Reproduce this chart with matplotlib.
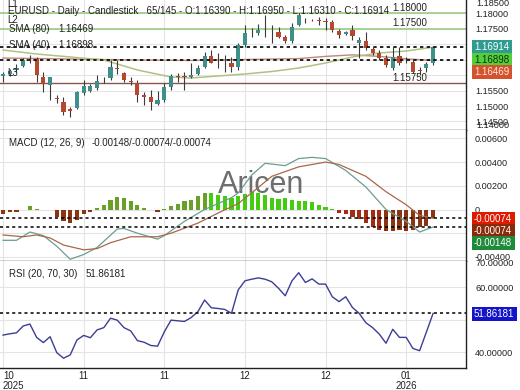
import numpy as np
import matplotlib.pyplot as plt

plt.rcParams['font.family'] = ['Liberation Sans', 'DejaVu Sans']

# daily candles, EURUSD (65 bars shown)
opens = [1.1598, 1.1603, 1.1616, 1.1629, 1.1648, 1.1652, 1.1594, 1.1568, 1.1525, 1.1513,
         1.1490, 1.1494, 1.1542, 1.1550, 1.1558, 1.1586, 1.1590, 1.1622, 1.1606, 1.1582,
         1.1574, 1.1535, 1.1529, 1.1507, 1.1519, 1.1561, 1.1597, 1.1596, 1.1594, 1.1603,
         1.1626, 1.1661, 1.1643, 1.1640, 1.1639, 1.1626, 1.1697, 1.1737, 1.1735, 1.1748,
         1.1740, 1.1739, 1.1723, 1.1710, 1.1761, 1.1774, 1.1778, 1.1776, 1.1773, 1.1771,
         1.1742, 1.1732, 1.1745, 1.1703, 1.1710, 1.1684, 1.1671, 1.1655, 1.1623, 1.1661,
         1.1648, 1.1642, 1.1616, 1.1623, 1.16390]
highs = [1.1610, 1.1620, 1.1635, 1.1655, 1.1665, 1.1658, 1.1610, 1.1595, 1.1535, 1.1529,
         1.1497, 1.1550, 1.1584, 1.1570, 1.1600, 1.1594, 1.1648, 1.1648, 1.1610, 1.1594,
         1.1584, 1.1545, 1.1552, 1.1548, 1.1574, 1.1603, 1.1606, 1.1610, 1.1639, 1.1632,
         1.1674, 1.1681, 1.1671, 1.1665, 1.1658, 1.1703, 1.1761, 1.1752, 1.1765, 1.1794,
         1.1761, 1.1755, 1.1729, 1.1768, 1.1800, 1.1784, 1.1780, 1.1787, 1.1784, 1.1777,
         1.1748, 1.1742, 1.1761, 1.1723, 1.1739, 1.1690, 1.1681, 1.1665, 1.1690, 1.1690,
         1.1658, 1.1648, 1.1626, 1.1642, 1.16950]
lows = [1.1577, 1.1598, 1.1610, 1.1626, 1.1640, 1.1578, 1.1545, 1.1519, 1.1510, 1.1471,
        1.1465, 1.1490, 1.1535, 1.1545, 1.1552, 1.1575, 1.1584, 1.1603, 1.1577, 1.1568,
        1.1513, 1.1503, 1.1487, 1.1503, 1.1513, 1.1552, 1.1577, 1.1552, 1.1590, 1.1600,
        1.1622, 1.1638, 1.1622, 1.1610, 1.1610, 1.1616, 1.1690, 1.1723, 1.1729, 1.1723,
        1.1703, 1.1719, 1.1703, 1.1703, 1.1758, 1.1768, 1.1775, 1.1761, 1.1745, 1.1739,
        1.1719, 1.1729, 1.1713, 1.1655, 1.1681, 1.1665, 1.1648, 1.1626, 1.1616, 1.1632,
        1.1639, 1.1606, 1.1600, 1.1610, 1.16310]
closes = [1.1603, 1.1612, 1.1623, 1.1648, 1.1650, 1.1600, 1.1571, 1.1594, 1.1521, 1.1481,
          1.1485, 1.1545, 1.1565, 1.1565, 1.1581, 1.1588, 1.1626, 1.1620, 1.1584, 1.1579,
          1.1535, 1.1530, 1.1513, 1.1519, 1.1561, 1.1597, 1.1594, 1.1595, 1.1600, 1.1623,
          1.1661, 1.1639, 1.1641, 1.1638, 1.1626, 1.1697, 1.1735, 1.1735, 1.1745, 1.1749,
          1.1738, 1.1723, 1.1710, 1.1755, 1.1794, 1.1775, 1.1777, 1.1774, 1.1771, 1.1745,
          1.1729, 1.1740, 1.1726, 1.1713, 1.1687, 1.1671, 1.1655, 1.1632, 1.1658, 1.1639,
          1.1649, 1.1610, 1.1614, 1.1636, 1.16914]

# moving averages (read every few bars)
sma40_idx = [0, 5, 10, 15, 20, 25, 28, 32, 36, 40, 44, 48, 52, 56, 60, 64]
sma40 = [1.16806, 1.16677, 1.16581, 1.16484, 1.16161, 1.15935, 1.15903, 1.15968,
         1.16032, 1.16113, 1.16226, 1.16387, 1.16581, 1.16710, 1.16774, 1.16898]
sma80_idx = [0, 10, 20, 28, 36, 44, 48, 52, 56, 60, 64]
sma80 = [1.16548, 1.16516, 1.16484, 1.16470, 1.16500, 1.16530, 1.16600, 1.16650,
         1.16600, 1.16520, 1.16469]

levels_green = [1.18000, 1.17500]
level_brown = 1.15750

# MACD (12, 26, 9)
macd_idx = [0, 2, 4, 6, 8, 10, 12, 14, 17, 18, 20, 23, 24, 27, 30, 32, 34, 35, 37, 39,
            42, 44, 46, 48, 51, 54, 57, 60, 62, 64]
macd = [-0.0026, -0.0026, -0.0019, -0.0022, -0.0031, -0.0042, -0.0038, -0.0032, -0.00165,
        -0.0016, -0.0020, -0.0025, -0.0022, -0.0010, 0.0, 0.0005, 0.0010, 0.0014, 0.0029,
        0.0039, 0.0037, 0.0043, 0.0044, 0.0043, 0.0033, 0.0019, 0.0, -0.0010, -0.0019, -0.00148]
sig_idx = [0, 3, 5, 7, 9, 12, 14, 16, 19, 23, 25, 29, 32, 35, 37, 40, 44, 48, 50, 54,
           57, 60, 62, 64]
signal = [-0.00215, -0.0023, -0.00215, -0.0024, -0.0030, -0.0034, -0.0033, -0.0028,
          -0.0023, -0.0023, -0.0020, -0.00115, -0.0003, 0.0005, 0.0014, 0.0028, 0.0036,
          0.0040, 0.0038, 0.0028, 0.0015, 0.0004, -0.0005, -0.00074]
hist = [-0.0004, -0.00025, -0.00017, -0.00003, 0.00028, 0.00005, -0.00005, -0.00005, -0.00062, -0.00099,
        -0.00118, -0.0009, -0.00042, -0.00017, 0.0001, 0.00042, 0.00084, 0.00107, 0.00098, 0.0007,
        0.00042, 0.00012, -0.00003, -0.00022, 0.00002, 0.0003, 0.0005, 0.00074, 0.0008, 0.0011,
        0.0014, 0.0014, 0.00125, 0.0011, 0.00095, 0.0011, 0.0013, 0.0015, 0.0014, 0.0012,
        0.001, 0.0009, 0.00095, 0.0008, 0.0007, 0.0007, 0.0006, 0.0004, 0.0002, 0.00002,
        -0.00033, -0.00035, -0.0006, -0.0008, -0.0011, -0.0015, -0.0017, -0.0018, -0.0018, -0.0017,
        -0.0018, -0.0017, -0.0015, -0.0014, -0.00074]

# RSI (20, 70, 30)
rsi = [45.2, 45.6, 45.9, 48.0, 48.6, 44.5, 42.9, 44.7, 39.8, 38.1,
       39.1, 43.7, 45.1, 44.4, 46.8, 47.5, 50.4, 49.8, 47.5, 46.5,
       43.5, 43.0, 42.0, 41.8, 46.2, 49.8, 49.6, 49.4, 50.6, 52.4,
       56.0, 53.6, 53.4, 53.1, 51.9, 59.1, 61.9, 62.4, 62.8, 62.4,
       61.6, 59.6, 57.3, 61.9, 64.4, 61.4, 62.5, 60.9, 60.9, 57.0,
       55.5, 57.0, 53.7, 51.9, 49.0, 47.5, 45.5, 42.7, 47.0, 44.5,
       44.5, 41.1, 40.4, 46.1, 51.86181]

month_idx = [0, 12, 24, 36, 48, 60]
month_labels = ['10\n2025', '11', '11', '12', '12', '01\n2026']

W, H = 520, 390
fig = plt.figure(figsize=(W / 100, H / 100), dpi=100)
pw = 466 / W
ax1 = fig.add_axes([0, 1 - 130 / H, pw, 130 / H])
ax2 = fig.add_axes([0, 1 - 261 / H, pw, 131 / H])
ax3 = fig.add_axes([0, 1 - 368 / H, pw, 107 / H])

fs = 6.6
txt = '#222222'
grid_c = '#e4e4e4'

for ax in (ax1, ax2, ax3):
    ax.set_xlim(-0.45, 68.9)
    ax.yaxis.tick_right()
    ax.tick_params(axis='y', length=0, pad=6.5, labelsize=fs, labelcolor=txt)
    ax.tick_params(axis='x', length=0)
    ax.set_xticks(month_idx)
    ax.set_xticklabels([])
    ax.grid(True, color=grid_c, lw=0.8)
    ax.set_axisbelow(True)
    for s in ('top', 'left'):
        ax.spines[s].set_visible(False)
    for s in ('right', 'bottom'):
        ax.spines[s].set_color('#222222')
        ax.spines[s].set_linewidth(1.0)

x = np.arange(len(closes))
o = np.array(opens)
c = np.array(closes)

# ---- price panel
ax1.set_ylim(1.142258, 1.184194)
pt = [1.145, 1.150, 1.155, 1.160, 1.165, 1.170, 1.175, 1.180]
ax1.set_yticks(pt)
# 1.160-1.170 sit under the value tags
ax1.set_yticklabels(['' if 1.159 < v < 1.171 else '%.5f' % v for v in pt])

for lv in levels_green:
    ax1.axhline(lv, color='#9fd08a', lw=1.3, zorder=1)
ax1.axhline(level_brown, color='#8a5548', lw=1.0, zorder=1)

ax1.plot(sma80_idx, sma80, color='#c08878', lw=1.0, zorder=2)
ax1.plot(sma40_idx, sma40, color='#b0c282', lw=1.1, zorder=2)

ax1.axhline(closes[-1], color='black', lw=1.2, ls=(0, (2, 2)), zorder=4)
ax1.axhline(sma80[-1], color='black', lw=1.2, ls=(0, (2, 2)), zorder=4)

up = c >= o
body_col = np.where(up, '#3f8f8b', '#b5482e')
ax1.vlines(x, lows, highs, color='#3a3a3a', lw=0.8, zorder=3)
body_h = np.maximum(np.abs(c - o), 0.00009)
ax1.bar(x, body_h, 0.62, np.minimum(o, c), color=body_col, lw=0, zorder=3)

lab = dict(fontsize=fs + 0.4, color=txt, va='center')
fig.text(392 / W, 1 - 8 / H, '%.5f' % levels_green[0], **lab)
fig.text(392 / W, 1 - 23 / H, '%.5f' % levels_green[1], **lab)
fig.text(392 / W, 1 - 78 / H, '%.5f' % level_brown, **lab)

fig.text(7 / W, 1 - 4 / H, 'L1', **lab)
fig.text(8 / W, 1 - 11 / H,
         'EURUSD - Daily - Candlestick   65/145 - O:%.5f - H:%.5f - L:%.5f - C:%.5f'
         % (opens[-1], highs[-1], lows[-1], closes[-1]), **lab)
fig.text(7 / W, 1 - 20 / H, 'L2', **lab)
fig.text(9 / W, 1 - 29.5 / H, 'SMA (80)', **lab)
fig.text(58 / W, 1 - 29.5 / H, '%.5f' % sma80[-1], **lab)
fig.text(9 / W, 1 - 45 / H, 'SMA (40)', **lab)
fig.text(58 / W, 1 - 45 / H, '%.5f' % sma40[-1], **lab)
fig.text(7 / W, 1 - 73 / H, 'L3', **lab)

# edge labels pushed inside the panel
fig.text(476 / W, 1 - 4 / H, '1.18500', fontsize=fs, color=txt, va='center')
fig.text(476 / W, 1 - 126 / H, '1.14000', fontsize=fs, color=txt, va='center')


def tag(y, s, fc, tc='white'):
    fig.text(474 / W, 1 - y / H, s, fontsize=fs + 0.4, color=tc, va='center',
             bbox=dict(boxstyle='square,pad=0.25', fc=fc, ec='none'), zorder=10)


tag(47, '%.5f' % closes[-1], '#2f9c8f')
tag(60, '%.5f' % sma40[-1], '#52cf3a', '#163010')
tag(72, '%.5f' % sma80[-1], '#d4532e', '#ffe8dc')

# ---- MACD panel
ax2.set_ylim(-0.004346, 0.006709)
mt = [-0.004, -0.002, 0, 0.002, 0.004, 0.006]
ax2.set_yticks(mt)
ax2.set_yticklabels(['0' if v == 0 else ('' if v == -0.002 else '%.5f' % v) for v in mt])

macd_at = np.interp(x, macd_idx, macd)
hcol = []
for h, m in zip(hist, macd_at):
    if h >= 0:
        hcol.append('#44cc11' if m > 0 else '#6a9f2a')
    else:
        hcol.append('#a52a12' if m > 0 else '#8b3412')
ax2.bar(x, hist, 0.62, color=hcol, lw=0, zorder=2)
ax2.plot(macd_idx, macd, color='#6b9d92', lw=0.9, zorder=3)
ax2.plot(sig_idx, signal, color='#a8684c', lw=0.9, zorder=3)
ax2.axhline(hist[-1], color='black', lw=1.1, ls=(0, (2, 2)), zorder=4)
ax2.axhline(macd[-1], color='black', lw=1.1, ls=(0, (2, 2)), zorder=4)

ax2.text(0.56, 0.58, 'Aricen', transform=ax2.transAxes, fontsize=22, color='#555555',
         alpha=0.85, ha='center', va='center', zorder=1)
fig.text(9 / W, 1 - 143 / H, 'MACD (12, 26, 9)', **lab)
fig.text(92 / W, 1 - 143 / H, '%.5f/%.5f/%.5f' % (macd[-1], signal[-1], hist[-1]), **lab)

tag(219, '%.5f' % hist[-1], '#e01a00')
tag(231, '%.5f' % signal[-1], '#8a2a0c')
tag(243, '%.5f' % macd[-1], '#1f8a3a')

# ---- RSI panel
ax3.set_ylim(35.08, 68.0)
rt = [40, 50, 60]
ax3.set_yticks(rt)
ax3.set_yticklabels(['' if v == 50 else '%.5f' % v for v in rt])
ax3.plot(x, rsi, color='#3d3d96', lw=1.0, zorder=3)
ax3.axhline(rsi[-1], color='black', lw=1.1, ls=(0, (2, 2)), zorder=4)
fig.text(476 / W, 1 - 264 / H, '70.00000', fontsize=fs, color=txt, va='center')
fig.text(9 / W, 1 - 274 / H, 'RSI (20, 70, 30)', **lab)
fig.text(86 / W, 1 - 274 / H, '%.5f' % rsi[-1], **lab)
tag(314, '%.5f' % rsi[-1], '#1414c8')

ax3.set_xticklabels(month_labels, fontsize=fs + 0.4, color=txt, linespacing=1.0)
ax3.tick_params(axis='x', pad=2)
ax3.get_xticklabels()[0].set_horizontalalignment('left')

fig.savefig('out.png', dpi=100)
